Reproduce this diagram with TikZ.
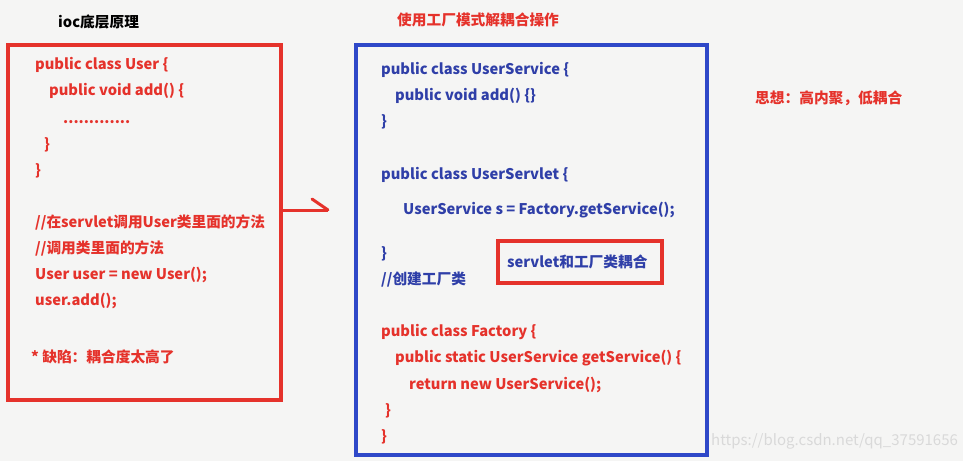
\documentclass[tikz,border=0pt]{standalone}
\usepackage{fontspec}
\setmainfont{Noto Sans CJK SC}
\usepackage{tikz}

\definecolor{codered}{HTML}{E5322B}
\definecolor{codeblue}{HTML}{2F3FA8}
\definecolor{boxblue}{HTML}{2F48C8}
\definecolor{paper}{HTML}{F5F5F4}

\begin{document}
\begin{tikzpicture}[x=1pt, y=-1pt,
        code/.style={anchor=mid west, inner sep=0pt, yshift=-3pt, font=\fontsize{14.7}{16}\selectfont\bfseries},
        redcode/.style={code, text=codered},
        bluecode/.style={code, text=codeblue},
        frame/.style={draw, line width=3.8pt, inner sep=0pt}]
        \fill[paper] (0,0) rectangle (963,461);
        \useasboundingbox (0,0) rectangle (963,461);

        % titles
        \node[code, text=black] (ttlioc) at (58,22) {ioc底层原理};
        \node[redcode] (ttlfac) at (397,20) {使用工厂模式解耦合操作};
        \node[redcode] (idea) at (755,98) {思想：高内聚，低耦合};

        % left box
        \node[frame, draw=codered, minimum width=273pt, minimum height=355pt] (lbox) at (144.5,222.5) {};
        \node[redcode] (l1) at (35,64) {public class User \{};
        \node[redcode] (l2) at (49,90) {public void add() \{};
        \node[redcode] (l3) at (63,118) {.............};
        \node[redcode] (l4) at (44,144) {\}};
        \node[redcode] (l5) at (35,170) {\}};
        \node[redcode] (l6) at (35,222) {//在servlet调用User类里面的方法};
        \node[redcode] (l7) at (35,248) {//调用类里面的方法};
        \node[redcode] (l8) at (35,274) {User user = new User();};
        \node[redcode] (l9) at (35,300) {user.add();};
        \node[redcode] (l10) at (31,357) {* 缺陷：耦合度太高了};

        % arrow
        \coordinate (arrtip) at (328,210);
        \draw[codered, line width=3pt] (lbox.east |- arrtip) -- (arrtip);
        \draw[codered, line width=3pt, line cap=round] (312,199) -- (arrtip);

        % right box
        \node[frame, draw=boxblue, minimum width=351pt, minimum height=410pt] (rbox) at (531.5,250) {};
        \node[bluecode] (r1) at (381,69) {public class UserService \{};
        \node[bluecode] (r2) at (395,95) {public void add() \{\}};
        \node[bluecode] (r3) at (381,121) {\}};
        \node[bluecode] (r4) at (381,174) {public class UserServlet \{};
        \node[bluecode] (r5) at (403,209) {UserService s = Factory.getService();};
        \node[bluecode] (r6) at (381,253) {\}};
        \node[bluecode] (r7) at (381,279) {//创建工厂类};
        \node[redcode] (r8) at (381,331) {public class Factory \{};
        \node[redcode] (r9) at (395,357) {public static UserService getService() \{};
        \node[redcode] (r10) at (409,384) {return new UserService();};
        \node[redcode] (r11) at (385,410) {\}};
        \node[redcode] (r12) at (381,436) {\}};

        % coupling note
        \node[frame, draw=codered, line width=3.5pt, minimum width=164pt, minimum height=42pt] (cbox) at (580,262) {};
        \node[bluecode] (cnote) at (507,262) {servlet和工厂类耦合};

        \node[anchor=mid west, inner sep=0pt, yshift=-2pt, text=black!15, font=\fontsize{15}{16}\selectfont] (wmark) at (711,441) {https://blog.csdn.net/qq\_37591656};
    \end{tikzpicture}
\end{document}
